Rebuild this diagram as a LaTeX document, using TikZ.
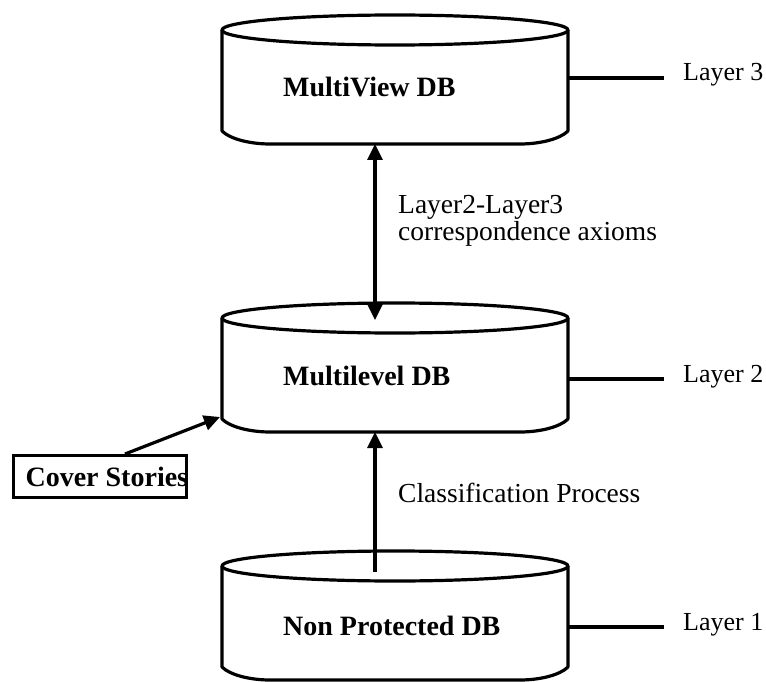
\documentclass[tikz,border=0pt]{standalone}
\usepackage{fontspec}
\setmainfont{Liberation Serif}
\usetikzlibrary{arrows.meta}
\newcommand\mydbcyl[2]{%
  \draw[cyl] (222,#2) -- (222,#2+101)
    .. controls (230,#2+109) and (250,#2+114) .. (270,#2+114)
    -- (520,#2+114)
    .. controls (540,#2+114) and (560,#2+109) .. (568,#2+101) -- (568,#2);
  \draw[cyl] (395,#2) ellipse [x radius=173, y radius=15];
  \coordinate (#1-bot) at (375,#2+114);
  \coordinate (#1-in) at (375,#2+2);
  \coordinate (#1-from) at (375,#2+6);
  \coordinate (#1-corner) at (220,#2+99);
}
\begin{document}
\begin{tikzpicture}[x=1pt,y=-1pt,
  cyl/.style={line width=3.2pt, line join=round},
  conn/.style={line width=3.2pt},
  tip/.style={-{Triangle[length=16pt,width=15pt]}},
  dbtext/.style={font=\fontsize{28}{28}\selectfont\bfseries, inner sep=0pt, anchor=base west},
  lbl/.style={font=\fontsize{27.5}{27}\selectfont, inner sep=0pt, anchor=base west, align=left},
  layertext/.style={font=\fontsize{26}{26}\selectfont, inner sep=0pt, anchor=base west},
  coverbox/.style={draw, line width=3.2pt, font=\fontsize{28}{28}\selectfont\bfseries,
    anchor=north west, inner xsep=12pt, inner ysep=0pt,
    minimum height=42pt}]
\useasboundingbox (0,0) rectangle (766,682);

% cylinders
\mydbcyl{top}{30}
\mydbcyl{mid}{318}
\mydbcyl{bot}{566}

\node[dbtext] (mv) at (283,97) {MultiView DB};
\node[dbtext] (ml) at (283,385) {Multilevel DB};
\node[dbtext] (np) at (283,635) {Non Protected DB};

% layer markers
\coordinate (l3) at (664,78);
\coordinate (l2) at (664,379);
\coordinate (l1) at (664,627);
\coordinate (c3) at (568,78);
\coordinate (c2) at (568,379);
\coordinate (c1) at (568,627);
\draw[conn] (c3) -- (l3);
\draw[conn] (c2) -- (l2);
\draw[conn] (c1) -- (l1);
\node[layertext] (t3) at (683,81) {Layer 3};
\node[layertext] (t2) at (683,382) {Layer 2};
\node[layertext] (t1) at (683,630) {Layer 1};

% arrows
\draw[conn, {Triangle[length=16pt,width=15pt]}-{Triangle[length=16pt,width=15pt]}] (top-bot) -- (mid-in);
\draw[conn, tip] (bot-from) -- (mid-bot);

\node[lbl] (ax) at (398,240) {Layer2-Layer3\\correspondence axioms};
\node[lbl] (cp) at (398,502) {Classification Process};

\node[coverbox] (cover) at (12,454) {\makebox[149pt][l]{Cover Stories}};
\draw[conn, tip] (125,454) -- (mid-corner);
\end{tikzpicture}
\end{document}
